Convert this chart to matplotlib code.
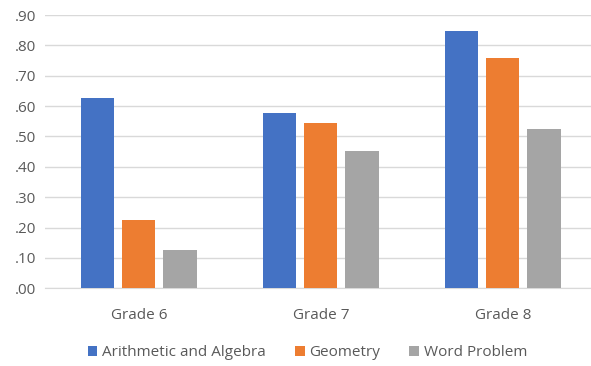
import matplotlib.pyplot as plt
import numpy as np
from matplotlib.ticker import FuncFormatter

categories = ['Grade 6', 'Grade 7', 'Grade 8']
series = ['Arithmetic and Algebra', 'Geometry', 'Word Problem']
arith = [0.626, 0.576, 0.847]
geom = [0.226, 0.543, 0.757]
word = [0.127, 0.452, 0.525]
colors = ['#4472C4', '#ED7D31', '#A5A5A5']

plt.rcParams['font.family'] = ['Open Sans', 'DejaVu Sans']

fig = plt.figure(figsize=(5.91, 3.66), dpi=100)
ax = fig.add_axes([0.076, 0.2123, 0.924, 0.7467])

ind = np.arange(len(categories))
width = 0.182
step = 0.226
bars = []
for i, (vals, c) in enumerate(zip([arith, geom, word], colors)):
    bars.append(ax.bar(ind + (i - 1) * step, vals, width, color=c, zorder=3))

ax.set_xlim(-0.516, 2.484)
ax.set_ylim(0, 0.9)
ax.set_yticks(np.arange(0, 0.91, 0.1))
ax.yaxis.set_major_formatter(FuncFormatter(lambda v, p: ('%.2f' % v)[1:]))
ax.set_xticks(ind)
ax.set_xticklabels(categories)
ax.grid(axis='y', color='#D9D9D9', linewidth=1, zorder=0)
for s in ['top', 'right', 'left']:
    ax.spines[s].set_visible(False)
ax.spines['bottom'].set_color('#D9D9D9')
ax.tick_params(length=0, labelsize=11, colors='#595959')
ax.tick_params(axis='x', pad=14)
ax.tick_params(axis='y', pad=6)

fig.legend([b[0] for b in bars], series, loc='center', bbox_to_anchor=(0.52, 0.036),
           ncol=3, frameon=False, fontsize=11, handlelength=0.65, handleheight=0.65,
           handletextpad=0.3, columnspacing=1.9, labelcolor='#595959')

fig.savefig('out.png', dpi=100)
